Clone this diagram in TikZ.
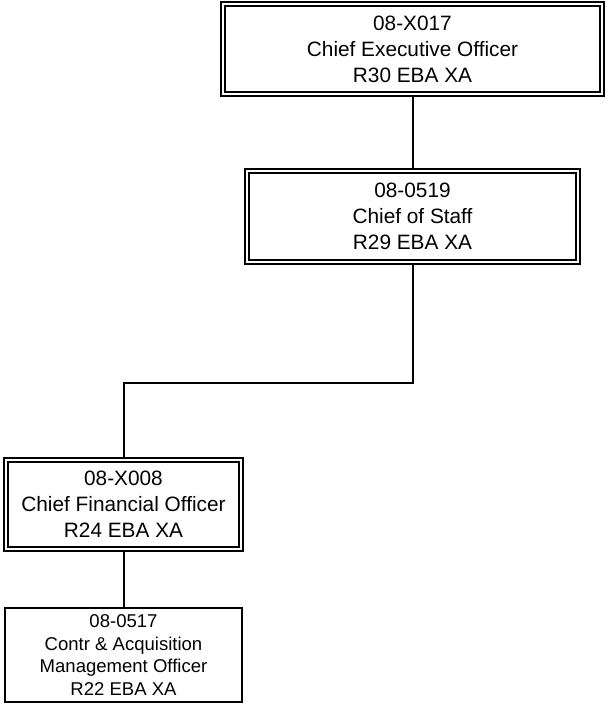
\documentclass[tikz,border=0pt]{standalone}
\usepackage{fontspec}
\setmainfont{Liberation Sans}
\tikzset{
  post/.style={draw, double, line width=1.35pt, double distance=2pt,
    outer sep=2.35pt, align=center, font=\fontsize{15.6}{19.5}\selectfont},
  subpost/.style={draw, line width=1.5pt, align=center,
    font=\fontsize{13.9}{16.8}\selectfont},
  link/.style={line width=1.5pt}
}

\begin{document}
\begin{tikzpicture}[x=0.75pt,y=-0.75pt]
\useasboundingbox (0,0) rectangle (608,704);

\node[post, minimum width=284.25pt, minimum height=67.5pt] (ceo) at (412.5,49)
  {08-X017\\Chief Executive Officer\\R30 EBA XA};
\node[post, minimum width=248.25pt, minimum height=68.25pt] (cos) at (412.5,216.5)
  {08-0519\\Chief of Staff\\R29 EBA XA};
\node[post, minimum width=176.25pt, minimum height=66.75pt] (cfo) at (123.5,504.5)
  {08-X008\\Chief Financial Officer\\R24 EBA XA};
\node[subpost, minimum width=177.75pt, minimum height=70.5pt] (cam) at (123.5,655)
  {08-0517\\Contr \& Acquisition\\Management Officer\\R22 EBA XA};

\coordinate (split) at (123.5,383);

\draw[link] (ceo.south) -- (cos.north);
\draw[link] (cos.south) |- (split) -- (cfo.north);
\draw[link] (cfo.south) -- (cam.north);

\end{tikzpicture}
\end{document}
